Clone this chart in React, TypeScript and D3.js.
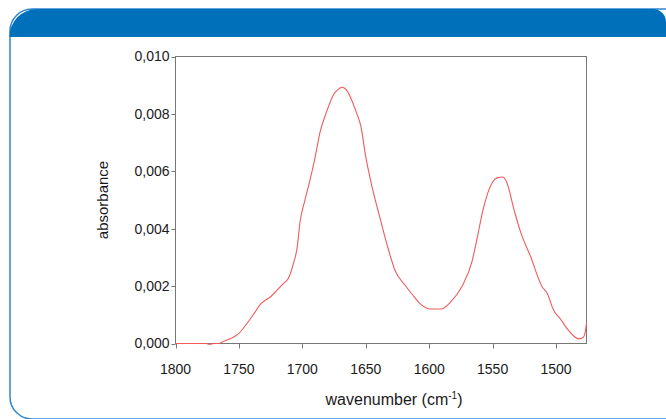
import React from "react";
import * as d3 from "d3";

const wavenumbers = [1800, 1776, 1773, 1770, 1766, 1762, 1756, 1750, 1744, 1738, 1733, 1725, 1715, 1711, 1707, 1704, 1702, 1698, 1694, 1690, 1686, 1681, 1675, 1671, 1669, 1667, 1665, 1661, 1657, 1654, 1650, 1645, 1639, 1632, 1627, 1619, 1613, 1607, 1599, 1591, 1583, 1574, 1566, 1562, 1558, 1554, 1550, 1546, 1542, 1539, 1533, 1528, 1520, 1511, 1507, 1502, 1496, 1491, 1486, 1482, 1479, 1477, 1476];
const absorbance = [0, 0, -0.00003, 0, 0, 0.00008, 0.00018, 0.00035, 0.00068, 0.00105, 0.00137, 0.00163, 0.00209, 0.00227, 0.00279, 0.00337, 0.00418, 0.00499, 0.00569, 0.00648, 0.00737, 0.00806, 0.0087, 0.00888, 0.00893, 0.0089, 0.00882, 0.00847, 0.0080, 0.0076, 0.0065, 0.00545, 0.00441, 0.00325, 0.00255, 0.00203, 0.00169, 0.00138, 0.0012, 0.0012, 0.00145, 0.002, 0.0029, 0.00371, 0.00458, 0.00522, 0.00563, 0.00578, 0.0058, 0.00563, 0.00464, 0.00389, 0.00302, 0.00198, 0.00175, 0.00117, 0.00082, 0.0005, 0.00026, 0.00016, 0.0002, 0.0004, 0.0007];

const xTicks = [1800, 1750, 1700, 1650, 1600, 1550, 1500];
const yTicks = [0, 0.002, 0.004, 0.006, 0.008, 0.01];
const xDomain = [1800, 1476];
const yDomain = [0, 0.01];

export default function App() {
  const left = 175.5, right = 586.5, top = 56.5, bottom = 343.5;
  const x = d3.scaleLinear().domain(xDomain).range([left, right]);
  const y = d3.scaleLinear().domain(yDomain).range([bottom, top]);
  const pts = wavenumbers.map((w, i) => [w, absorbance[i]] as [number, number]);
  const line = d3
    .line<[number, number]>()
    .x((d) => x(d[0]))
    .y((d) => y(d[1]))
    .curve(d3.curveMonotoneX);
  const fmt = (v: number) => d3.format(".3f")(v).replace(".", ",");
  const font = "'Liberation Sans', Arial, sans-serif";
  const axisColor = "#777";
  return (
    <svg
      width={666}
      height={419}
      style={{ position: "absolute", left: 0, top: 0, display: "block" }}
      fontFamily={font}
    >
      <rect x={0} y={0} width={666} height={419} fill="#fff" />
      <rect x={10} y={9} width={680} height={410} rx={22} ry={22} fill="#fff" stroke="#2f86d2" strokeWidth={1.5} />
      <path d="M9.5,37 A27.5,27.5 0 0 1 37,9 L652,9 A13,13 0 0 1 666,22 L666,37 Z" fill="#0070bb" />
      <rect x={left} y={top} width={right - left} height={bottom - top} fill="none" stroke={axisColor} strokeWidth={1} />
      {yTicks.map((t) => (
        <g key={"y" + t}>
          <line x1={left - 4} x2={left} y1={Math.round(y(t)) + 0.5} y2={Math.round(y(t)) + 0.5} stroke={axisColor} />
          <text x={left - 6} y={y(t)} dy="0.35em" textAnchor="end" fontSize={14} fill="#1a1a1a">
            {fmt(t)}
          </text>
        </g>
      ))}
      {xTicks.map((t) => (
        <g key={"x" + t}>
          <line x1={Math.round(x(t)) + 0.5} x2={Math.round(x(t)) + 0.5} y1={bottom} y2={bottom + 5} stroke={axisColor} />
          <text x={x(t)} y={bottom + 26} dy="0.35em" textAnchor="middle" fontSize={14} fill="#1a1a1a">
            {t}
          </text>
        </g>
      ))}
      <path d={line(pts) || ""} fill="none" stroke="#f25a5a" strokeWidth={1.1} />
      <text x={394} y={405} textAnchor="middle" fontSize={16} fill="#1a1a1a">
        wavenumber (cm
        <tspan fontSize={10} dy={-6}>-1</tspan>
        <tspan dy={6}>)</tspan>
      </text>
      <text
        transform={`translate(108, ${(top + bottom) / 2}) rotate(-90)`}
        textAnchor="middle"
        fontSize={15}
        fill="#1a1a1a"
      >
        absorbance
      </text>
    </svg>
  );
}
